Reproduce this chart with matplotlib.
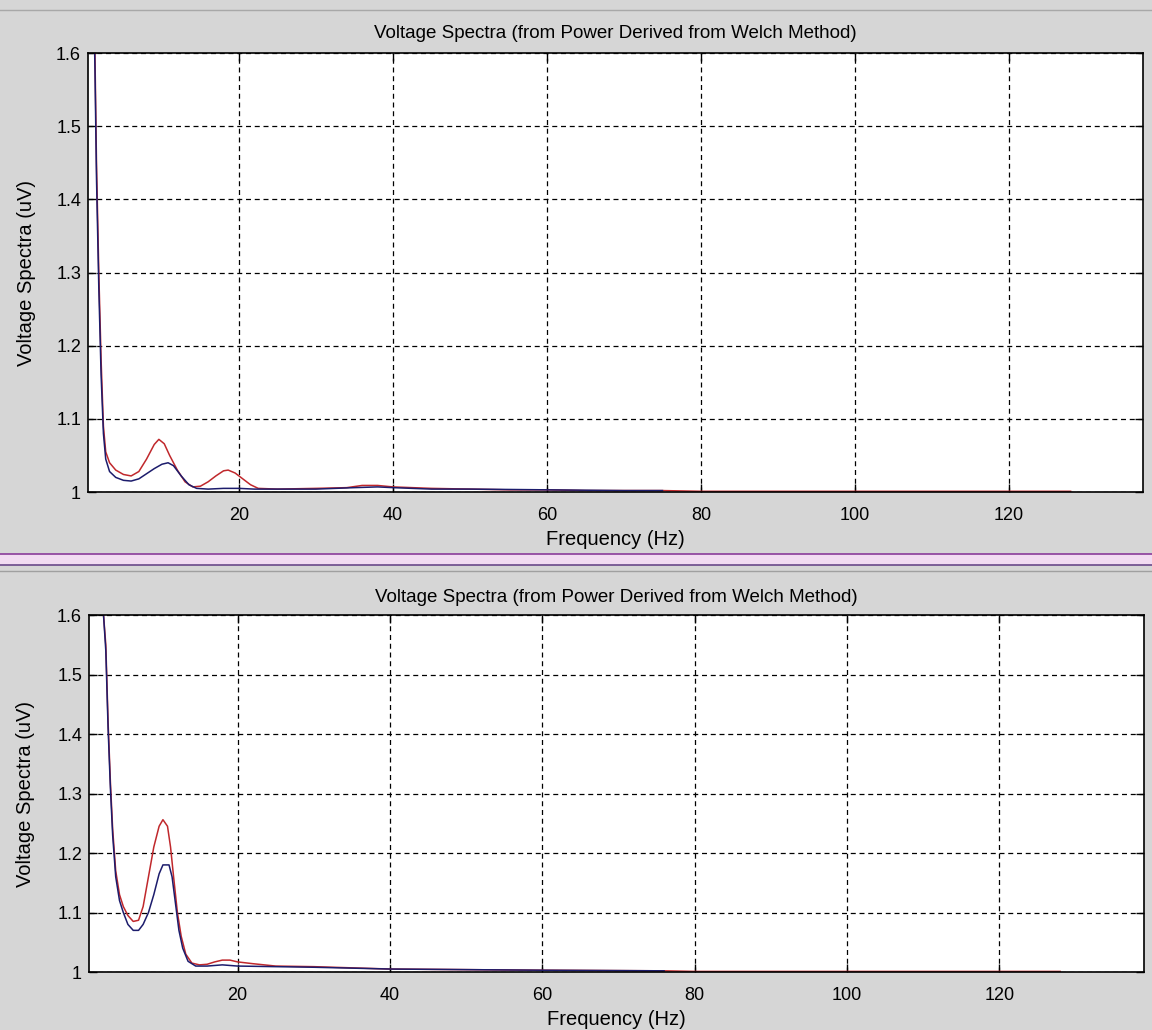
import matplotlib
matplotlib.use("Agg")
import matplotlib.pyplot as plt
from matplotlib.lines import Line2D
from matplotlib.patches import Rectangle

plt.rcParams['font.family'] = ['Liberation Sans', 'DejaVu Sans']

# top panel: frequency (Hz) and voltage spectra (uV)
top_red_f = [1.0, 1.3, 1.5, 1.8, 2.1, 2.4, 2.7, 3.2, 4.0, 5.0, 6.0, 7.0, 8.0, 9.0, 9.6,
             10.3, 11.0, 12.0, 13.0, 14.0, 15.0, 16.0, 17.0, 18.0, 18.6, 19.5, 20.5,
             21.5, 22.5, 25, 30, 34, 36, 38, 40, 45, 50, 55, 60, 65, 75, 80, 128]
top_red_v = [1.75, 1.60, 1.45, 1.30, 1.18, 1.09, 1.055, 1.04, 1.03, 1.024, 1.022, 1.028,
             1.045, 1.065, 1.072, 1.066, 1.05, 1.03, 1.014, 1.007, 1.008, 1.014, 1.022,
             1.029, 1.030, 1.026, 1.018, 1.01, 1.005, 1.004, 1.005, 1.006, 1.009, 1.009,
             1.007, 1.005, 1.004, 1.003, 1.003, 1.002, 1.002, 1.001, 1.001]
top_blue_f = [1.0, 1.3, 1.5, 1.8, 2.1, 2.4, 2.7, 3.2, 4.0, 5.0, 6.0, 7.0, 8.0, 9.0, 10.0,
              10.8, 11.5, 12.5, 13.5, 14.5, 16, 18, 20, 22, 25, 30, 35, 38, 40, 45, 50,
              60, 70, 75]
top_blue_v = [1.75, 1.58, 1.43, 1.28, 1.16, 1.08, 1.045, 1.028, 1.02, 1.016, 1.015, 1.018,
              1.025, 1.032, 1.038, 1.040, 1.036, 1.022, 1.01, 1.005, 1.004, 1.005, 1.005,
              1.004, 1.004, 1.004, 1.006, 1.007, 1.006, 1.004, 1.004, 1.003, 1.002, 1.002]

# bottom panel
bot_red_f = [2.0, 2.4, 2.7, 3.0, 3.3, 3.6, 4.0, 4.5, 5.0, 5.6, 6.3, 7.0, 7.6, 8.3, 9.0,
             9.7, 10.2, 10.8, 11.2, 11.6, 12.1, 12.6, 13.2, 14.0, 15.0, 16.0, 17.0, 18.0,
             19.0, 20.0, 22, 25, 30, 35, 40, 50, 60, 76, 80, 128]
bot_red_v = [1.75, 1.60, 1.55, 1.42, 1.32, 1.24, 1.17, 1.13, 1.11, 1.095, 1.085, 1.087,
             1.11, 1.16, 1.21, 1.245, 1.256, 1.245, 1.21, 1.16, 1.10, 1.06, 1.03, 1.015,
             1.012, 1.013, 1.017, 1.02, 1.02, 1.017, 1.014, 1.01, 1.009, 1.007, 1.005,
             1.004, 1.003, 1.002, 1.001, 1.001]
bot_blue_f = [2.0, 2.4, 2.7, 3.0, 3.3, 3.6, 4.0, 4.5, 5.0, 5.6, 6.3, 7.0, 7.6, 8.3, 9.0,
              9.7, 10.2, 11.0, 11.4, 11.8, 12.3, 12.8, 13.5, 14.5, 16, 18, 19, 20, 25,
              30, 40, 50, 60, 76]
bot_blue_v = [1.75, 1.60, 1.54, 1.41, 1.31, 1.23, 1.16, 1.12, 1.10, 1.08, 1.07, 1.07,
              1.08, 1.10, 1.13, 1.165, 1.18, 1.18, 1.16, 1.12, 1.07, 1.04, 1.018, 1.01,
              1.01, 1.012, 1.011, 1.01, 1.009, 1.008, 1.005, 1.004, 1.003, 1.002]

x_ticks = [20, 40, 60, 80, 100, 120]
y_ticks = [1, 1.1, 1.2, 1.3, 1.4, 1.5, 1.6]
y_labels = ["1", "1.1", "1.2", "1.3", "1.4", "1.5", "1.6"]

title = "Voltage Spectra (from Power Derived from Welch Method)"
bg = "#d6d6d6"
red = "#c0282c"
blue = "#1c1c6c"

fig = plt.figure(figsize=(11.52, 10.30), dpi=100, facecolor=bg)


def setup_axes(ax, xlim, title_y, xlab_y, ylab_x):
    ax.set_xlim(*xlim)
    ax.set_ylim(1, 1.6)
    ax.set_xticks(x_ticks)
    ax.set_yticks(y_ticks)
    ax.set_yticklabels(y_labels)
    ax.grid(True, color="black", linestyle=(0, (4, 3)), linewidth=0.9)
    ax.tick_params(direction="in", length=6, width=1, top=True, right=True,
                   labelsize=13, colors="black")
    ax.tick_params(axis="x", pad=11)
    ax.tick_params(axis="y", pad=5)
    for s in ax.spines.values():
        s.set_linewidth(1.2)
    ax.set_title(title, fontsize=13.5, y=title_y, pad=0, va="center")
    ax.set_xlabel("Frequency (Hz)", fontsize=14.5)
    ax.xaxis.set_label_coords(0.5, xlab_y)
    ax.xaxis.label.set_va("center")
    ax.set_ylabel("Voltage Spectra (uV)", fontsize=14.5)
    ax.yaxis.set_label_coords(ylab_x, 0.5)
    ax.yaxis.label.set_va("center")


ax1 = fig.add_axes([0.0764, 0.5223, 0.9158, 0.4262])
ax1.plot(top_red_f, top_red_v, color=red, linewidth=1.1)
ax1.plot(top_blue_f, top_blue_v, color=blue, linewidth=1.1)
setup_axes(ax1, (0.4, 137.4), 1.0456, -0.107, -0.0585)

ax2 = fig.add_axes([0.0773, 0.0563, 0.9157, 0.3466])
ax2.plot(bot_red_f, bot_red_v, color=red, linewidth=1.1)
ax2.plot(bot_blue_f, bot_blue_v, color=blue, linewidth=1.1)
setup_axes(ax2, (0.5, 139.0), 1.05, -0.134, -0.0605)

# window splitter between the two panels and thin rule at the top
fig.patches.append(Rectangle((0, 1 - 565 / 1030), 1, 11 / 1030, transform=fig.transFigure,
                             facecolor="#f2dcf2", edgecolor="none"))
fig.lines.append(Line2D([0, 1], [1 - 554 / 1030] * 2, transform=fig.transFigure,
                        color="#8a3c9a", linewidth=1.2))
fig.lines.append(Line2D([0, 1], [1 - 565 / 1030] * 2, transform=fig.transFigure,
                        color="#6a4a8a", linewidth=1.2))
fig.lines.append(Line2D([0, 1], [1 - 571 / 1030] * 2, transform=fig.transFigure,
                        color="#a0a0a0", linewidth=1))
fig.lines.append(Line2D([0, 1], [1 - 10 / 1030] * 2, transform=fig.transFigure,
                        color="#a8a8a8", linewidth=1))

fig.savefig("out.png", dpi=100, facecolor=bg)
